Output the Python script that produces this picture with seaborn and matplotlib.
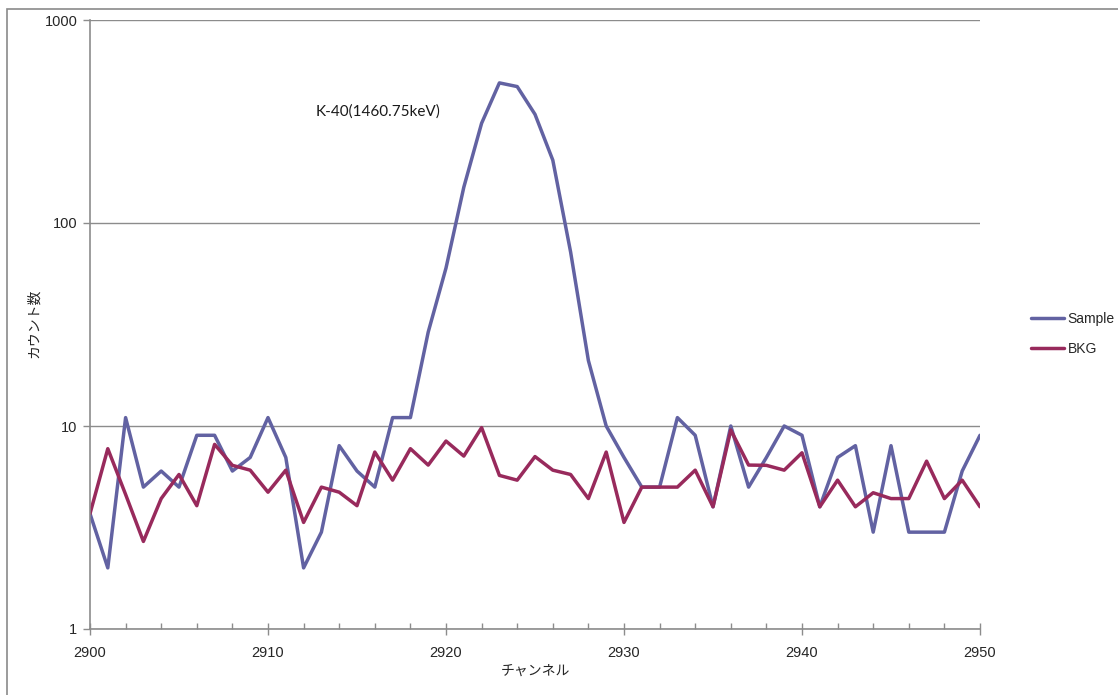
import numpy as np
import pandas as pd
import matplotlib
matplotlib.use("Agg")
import matplotlib.pyplot as plt
from matplotlib.patches import Rectangle
from matplotlib.ticker import FixedLocator, NullFormatter
import seaborn as sns

channels = list(range(2900, 2951))

sample_counts = [3.7, 2, 11, 5, 6, 5, 9, 9, 6, 7,
                 11, 7, 2, 3, 8, 6, 5, 11, 11, 29,
                 60, 150, 310, 490, 470, 343, 204, 72, 21, 10,
                 7, 5, 5, 11, 9, 4, 10, 5, 7, 10,
                 9, 4, 7, 8, 3, 8, 3, 3, 3, 6,
                 9]

bkg_counts = [3.7, 7.73, 4.6, 2.7, 4.39, 5.77, 4.05, 8.12, 6.4, 6.06,
              4.72, 6.06, 3.35, 5.0, 4.72, 4.05, 7.44, 5.41, 7.73, 6.42,
              8.43, 7.11, 9.82, 5.71, 5.41, 7.07, 6.06, 5.77, 4.39, 7.44,
              3.35, 5.0, 5.0, 5.0, 6.06, 4.0, 9.55, 6.42, 6.4, 6.06,
              7.38, 4.0, 5.41, 4.0, 4.69, 4.39, 4.39, 6.71, 4.39, 5.41,
              4.0]

series_names = ["Sample", "BKG"]
series_colors = ["#6262a2", "#982a5c"]

y_ticks = [1, 10, 100, 1000]
x_ticks = [2900, 2910, 2920, 2930, 2940, 2950]

peak_label = "K-40(1460.75keV)"
peak_label_pos = (2912.65, 355)

df = pd.DataFrame({
    "channel": channels * 2,
    "count": sample_counts + bkg_counts,
    "series": [series_names[0]] * len(channels) + [series_names[1]] * len(channels),
})

sns.set_theme(style="white")
plt.rcParams["font.family"] = ["Liberation Sans", "Noto Sans CJK JP", "DejaVu Sans"]

W, H = 1118, 695
fig = plt.figure(figsize=(W / 100, H / 100), dpi=100)
fig.patch.set_facecolor("white")

# outer chart frame (left and top edges visible)
fig.add_artist(Rectangle((7 / W, -0.1), 1.2, 1.1 - 9 / H,
                         transform=fig.transFigure, fill=False,
                         edgecolor="#8a8a8a", linewidth=1.2))

ax = fig.add_axes([90 / W, (H - 629) / H, 890 / W, 609 / H])

sns.lineplot(data=df, x="channel", y="count", hue="series",
             hue_order=series_names, palette=series_colors,
             linewidth=2.5, ax=ax, legend=False)

ax.set_yscale("log")
ax.set_xlim(2900, 2950)
ax.set_ylim(1, 1000)

ax.set_yticks(y_ticks)
ax.set_yticklabels([str(v) for v in y_ticks])
ax.yaxis.set_minor_locator(FixedLocator([]))
ax.set_xticks(x_ticks)
ax.set_xticklabels([str(v) for v in x_ticks])
ax.xaxis.set_minor_locator(FixedLocator([c for c in range(2902, 2950, 2) if c % 10 != 0]))
ax.xaxis.set_minor_formatter(NullFormatter())

ax.grid(axis="y", which="major", color="#8c8c8c", linewidth=1.0)
ax.grid(axis="x", visible=False)
ax.set_axisbelow(True)

for side in ["top", "right"]:
    ax.spines[side].set_visible(False)
for side in ["left", "bottom"]:
    ax.spines[side].set_color("#8c8c8c")
    ax.spines[side].set_linewidth(1.2)

ax.tick_params(axis="x", which="major", direction="inout", length=9, width=1,
               color="#8c8c8c", labelsize=10.5, pad=8, bottom=True)
ax.tick_params(axis="x", which="minor", direction="in", length=4, width=1,
               color="#8c8c8c", bottom=True)
ax.tick_params(axis="y", which="major", direction="out", length=5, width=1,
               color="#8c8c8c", labelsize=10.5, pad=4, left=True)

ax.set_xlabel("チャンネル", fontsize=10, family=["Noto Sans CJK JP", "DejaVu Sans"])
ax.xaxis.set_label_coords(0.5, -(671 - 629) / 609)
ax.xaxis.label.set_va("center")
ax.set_ylabel("カウント数", fontsize=10, family=["Noto Sans CJK JP", "DejaVu Sans"])
ax.yaxis.set_label_coords((41 - 90) / 890, (629 - 323) / 609)

ax.text(peak_label_pos[0], peak_label_pos[1], peak_label, fontsize=11,
        family=["Lato", "DejaVu Sans"], ha="left", va="center", color="#1a1a1a")

handles = [plt.Line2D([], [], color=c, linewidth=2.5) for c in series_colors]
fig.legend(handles, series_names, loc="center left",
           bbox_to_anchor=(1031 / W, 1 - 334 / H), frameon=False,
           fontsize=10, handlelength=2.4, handletextpad=0.25,
           labelspacing=1.15, borderaxespad=0, borderpad=0)

fig.savefig("out.png", dpi=100, facecolor="white")
